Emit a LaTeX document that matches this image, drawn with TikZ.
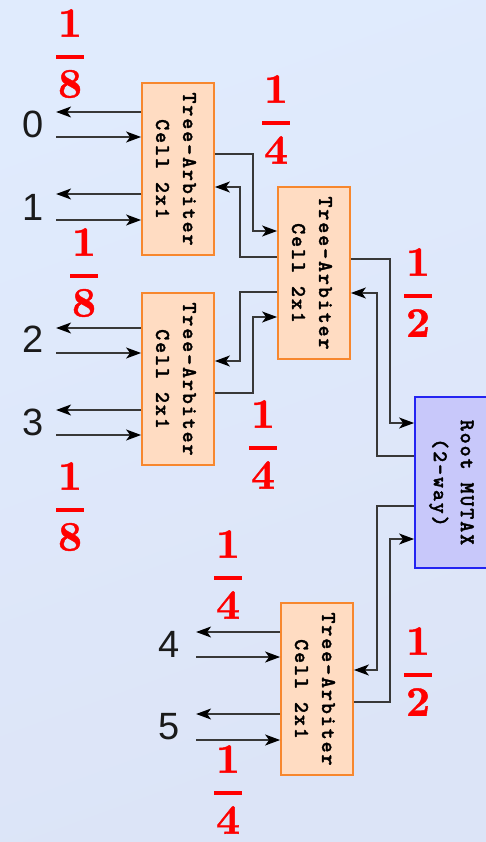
\documentclass[tikz,border=0pt]{standalone}
\usepackage{fontspec}
\usetikzlibrary{arrows.meta}
\newfontfamily\portfont{Liberation Sans}
\newfontfamily\cellfont{lmmonolt10-bold}[Extension=.otf, LetterSpace=9, FakeBold=1.5]
\newfontfamily\fracfont{lmroman10-bold}[Extension=.otf, FakeBold=1]

\definecolor{bgA}{HTML}{E0EBFD}
\definecolor{bgB}{HTML}{DCE4F7}
\definecolor{cellfill}{HTML}{FFDCC2}
\definecolor{celledge}{HTML}{F7872E}
\definecolor{rootfill}{HTML}{C8C8FA}
\definecolor{rootedge}{HTML}{2424F2}
\definecolor{wirecol}{HTML}{383838}
\definecolor{portcol}{HTML}{1A1A1A}
\definecolor{fracred}{HTML}{FF0000}

\tikzset{
  cell/.style={draw=celledge, fill=cellfill, line width=1.8pt,
    minimum width=72pt, minimum height=172pt, inner sep=0pt},
  rootbox/.style={draw=rootedge, fill=rootfill, line width=1.8pt,
    minimum width=73pt, minimum height=171pt, inner sep=0pt},
  celltext/.style={rotate=-90, align=center, inner sep=0pt, text=black,
    font=\cellfont\fontsize{21}{27}\selectfont},
  wire/.style={draw=wirecol, line width=1.4pt,
    -{Stealth[length=15pt,width=11pt,inset=4pt,color=black]}},
  port/.style={font=\portfont\fontsize{38}{38}\selectfont, text=portcol, inner sep=0pt},
  fracdigit/.style={font=\fracfont\fontsize{42}{42}\selectfont, text=fracred, inner sep=0pt},
  fracbar/.style={draw=fracred, line width=3.5pt},
}

% a fraction: name, bar centre x, bar centre y, numerator, denominator
\newcommand{\fracmark}[5]{%
  \node[fracdigit] (#1n) at (#2,#3-34) {#4};
  \draw[fracbar] (#2-14,#3) -- (#2+14,#3);
  \node[fracdigit] (#1d) at (#2,#3+27) {#5};
}

\begin{document}
\begin{tikzpicture}[x=1pt, y=-1pt]
  \useasboundingbox (0,0) rectangle (486,842);
  \shade[top color=bgA, bottom color=bgB, shading angle=20] (0,0) rectangle (486,842);

  % arbiter cells and the root mutex
  \node[cell] (A) at (178,169) {};
  \node[cell] (B) at (314,273) {};
  \node[cell] (C) at (178,379) {};
  \node[cell] (D) at (317,689) {};
  \node[rootbox] (R) at (451.5,482.5) {};

  \node[celltext] (At) at ([xshift=-2pt]A.center) {Tree-Arbiter\\Cell 2x1};
  \node[celltext] (Bt) at ([xshift=-2pt]B.center) {Tree-Arbiter\\Cell 2x1};
  \node[celltext] (Ct) at ([xshift=-2pt]C.center) {Tree-Arbiter\\Cell 2x1};
  \node[celltext] (Dt) at ([xshift=-2pt]D.center) {Tree-Arbiter\\Cell 2x1};
  \node[celltext] (Rt) at (R.center) {Root MUTAX\\(2-way)};

  % client ports 0..3
  \draw[wire] ([yshift=57pt]A.west) -- ++(-85,0);
  \draw[wire] ([yshift=32pt,xshift=-85pt]A.west) -- ([yshift=32pt]A.west);
  \draw[wire] ([yshift=-25pt]A.west) -- ++(-85,0);
  \draw[wire] ([yshift=-51pt,xshift=-85pt]A.west) -- ([yshift=-51pt]A.west);
  \draw[wire] ([yshift=51pt]C.west) -- ++(-85,0);
  \draw[wire] ([yshift=26pt,xshift=-85pt]C.west) -- ([yshift=26pt]C.west);
  \draw[wire] ([yshift=-31pt]C.west) -- ++(-85,0);
  \draw[wire] ([yshift=-56pt,xshift=-85pt]C.west) -- ([yshift=-56pt]C.west);
  % client ports 4..5
  \draw[wire] ([yshift=57pt]D.west) -- ++(-84,0);
  \draw[wire] ([yshift=32pt,xshift=-84pt]D.west) -- ([yshift=32pt]D.west);
  \draw[wire] ([yshift=-25pt]D.west) -- ++(-84,0);
  \draw[wire] ([yshift=-51pt,xshift=-84pt]D.west) -- ([yshift=-51pt]D.west);

  \node[port] (p0) at (33,124.5) {0};
  \node[port] (p1) at (33,207) {1};
  \node[port] (p2) at (33,339) {2};
  \node[port] (p3) at (33,422) {3};
  \node[port] (p4) at (169,644) {4};
  \node[port] (p5) at (169,727) {5};

  % requests up and grants down between the tree levels
  \draw[wire] ([yshift=15pt]A.east) -- ++(38,0) |- ([yshift=42pt]B.west);
  \draw[wire] ([yshift=16pt]B.west) -- ++(-37,0) |- ([yshift=-18pt]A.east);
  \draw[wire] ([yshift=-19pt]B.west) -- ++(-37,0) |- ([yshift=18pt]C.east);
  \draw[wire] ([yshift=-14pt]C.east) -- ++(38,0) |- ([yshift=-44pt]B.west);
  \draw[wire] ([yshift=14pt]B.east) -- ++(39,0) |- ([yshift=59.5pt]R.west);
  \draw[wire] ([yshift=26.5pt]R.west) -- ++(-37,0) |- ([yshift=-20pt]B.east);
  \draw[wire] ([yshift=-23.5pt]R.west) -- ++(-37,0) |- ([yshift=19pt]D.east);
  \draw[wire] ([yshift=-13pt]D.east) -- ++(36,0) |- ([yshift=-56.5pt]R.west);

  % share of the lock each branch receives
  \fracmark{f1}{70}{57}{1}{8}
  \fracmark{f2}{276}{123}{1}{4}
  \fracmark{f3}{84}{276}{1}{8}
  \fracmark{f4}{418}{296}{1}{2}
  \fracmark{f5}{263}{448}{1}{4}
  \fracmark{f6}{70}{510}{1}{8}
  \fracmark{f7}{228}{578}{1}{4}
  \fracmark{f8}{418}{675}{1}{2}
  \fracmark{f9}{228}{793}{1}{4}
\end{tikzpicture}
\end{document}
